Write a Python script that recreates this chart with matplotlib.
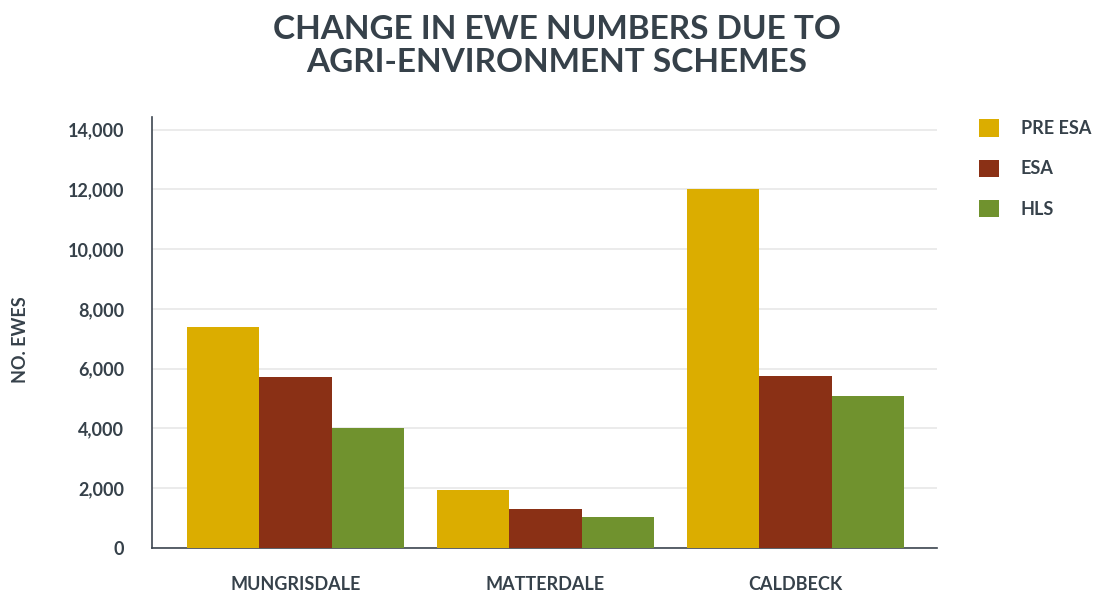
import matplotlib

matplotlib.use("Agg")

import matplotlib.pyplot as plt
import numpy as np

# Data: ewe numbers per parish
parishes = ["MUNGRISDALE", "MATTERDALE", "CALDBECK"]
pre_esa = [7400, 1950, 12000]
esa = [5730, 1290, 5750]
hls = [4000, 1050, 5080]

series_names = ["PRE ESA", "ESA", "HLS"]
colors = ["#dbad00", "#8a3015", "#70922e"]
text_col = "#36414a"

plt.rcParams["font.family"] = ["Lato", "DejaVu Sans"]

fig = plt.figure(figsize=(11.14, 5.91), dpi=100)
ax = fig.add_axes([152 / 1114, 1 - 548 / 591, (937 - 152) / 1114, (548 - 117) / 591])

x = np.arange(len(parishes))
w = 0.289
for i, (vals, name) in enumerate(zip([pre_esa, esa, hls], series_names)):
    ax.bar(x + (i - 1) * w, vals, width=w, color=colors[i], label=name, zorder=3)

ax.set_xlim(-0.574, 2.566)
ax.set_ylim(0, 14420)
ax.set_yticks(np.arange(0, 14001, 2000))
ax.set_yticklabels([f"{v:,}" for v in range(0, 14001, 2000)])
ax.set_xticks(x)
ax.set_xticklabels(parishes)

ax.grid(axis="y", color="#e8e8e8", linewidth=1.2, zorder=0)
for s in ["top", "right"]:
    ax.spines[s].set_visible(False)
for s in ["left", "bottom"]:
    ax.spines[s].set_color("#3d4650")
    ax.spines[s].set_linewidth(1.2)

ax.tick_params(axis="y", length=0, pad=20, labelsize=13, labelcolor=text_col)
ax.tick_params(axis="x", length=0, pad=20, labelsize=13, labelcolor=text_col)
for lab in ax.get_xticklabels() + ax.get_yticklabels():
    lab.set_fontweight("bold")

fig.text(20 / 1114, 1 - 340 / 591, "NO. EWES", rotation=90, ha="center", va="center",
         fontsize=13, fontweight="bold", color=text_col)

fig.text(557 / 1114, 1 - 46 / 591, "CHANGE IN EWE NUMBERS DUE TO\nAGRI-ENVIRONMENT SCHEMES",
         ha="center", va="center", fontsize=24, fontweight="bold", color=text_col,
         linespacing=1.2)

leg = ax.legend(loc="upper left", bbox_to_anchor=(963 / 1114, 1 - 103 / 591),
                bbox_transform=fig.transFigure, frameon=False, fontsize=13,
                handlelength=1.1, handleheight=1.1, handletextpad=1.2, labelspacing=1.25)
for t in leg.get_texts():
    t.set_color(text_col)
    t.set_fontweight("bold")

fig.savefig("out.png", dpi=100)
